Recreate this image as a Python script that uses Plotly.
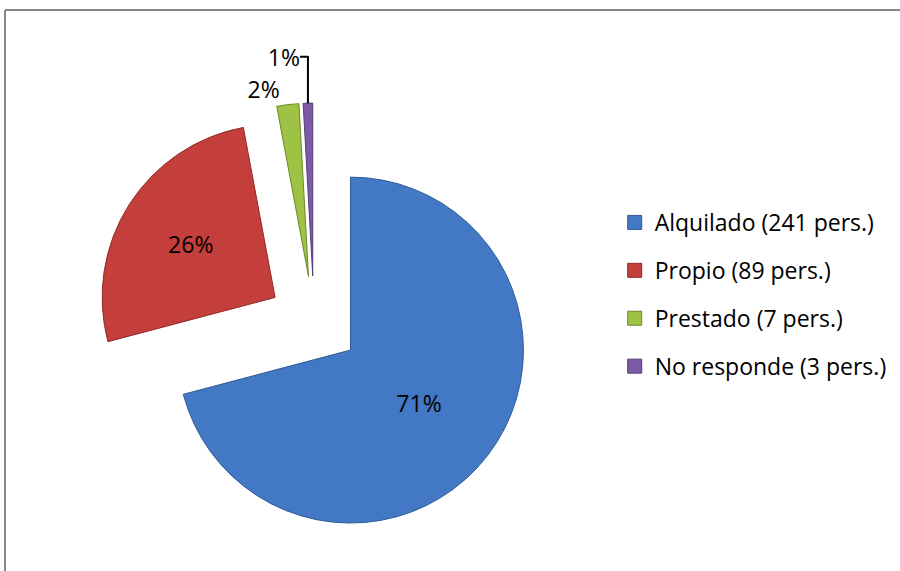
import plotly.graph_objects as go

labels = ["Alquilado (241 pers.)", "Propio (89 pers.)", "Prestado (7 pers.)", "No responde (3 pers.)"]
values = [241, 89, 7, 3]
colors = ["#4379c4", "#c43e3b", "#9dc244", "#7d5aa6"]
edges = ["#2f5b97", "#8e2a28", "#6c8a2a", "#553c78"]
text_pos = ["inside", "inside", "outside", "outside"]

FONT = "Open Sans, sans-serif"

fig = go.Figure()
fig.add_trace(go.Pie(
    labels=labels,
    values=values,
    sort=False,
    direction="clockwise",
    rotation=0,
    pull=[0.266] * 4,
    marker=dict(colors=colors, line=dict(color=edges, width=1)),
    texttemplate="%{percent:.0%}",
    textposition=text_pos,
    insidetextorientation="horizontal",
    textfont=dict(family=FONT, size=23, color="#000000"),
    domain=dict(x=[0.1056, 0.5922], y=[0.0525, 0.8196]),
    automargin=False,
    showlegend=False,
    hoverinfo="label+value+percent",
))

# legend entries (one group per slice so the spacing can be set)
for name, col, edge in zip(labels, colors, edges):
    fig.add_trace(go.Scatter(
        x=[None], y=[None], mode="markers", name=name, legendgroup=name,
        marker=dict(symbol="square", size=14, color=col, line=dict(color=edge, width=1)),
        hoverinfo="skip",
    ))

# chart border: only the top and left edges are in the picture
top = 1 - 10 / 571
left = 5 / 900
border = dict(color="#878787", width=2)
fig.add_shape(type="line", xref="paper", yref="paper",
              x0=left, x1=1.0, y0=top, y1=top, line=border)
fig.add_shape(type="line", xref="paper", yref="paper",
              x0=left, x1=left, y0=0.0, y1=top, line=border)

fig.update_layout(
    width=900, height=571,
    margin=dict(l=0, r=0, t=0, b=0, autoexpand=False),
    paper_bgcolor="white", plot_bgcolor="white",
    font=dict(family=FONT, size=23, color="#000000"),
    xaxis=dict(visible=False), yaxis=dict(visible=False),
    showlegend=True,
    legend=dict(x=0.683, y=0.648, xanchor="left", yanchor="top",
                tracegroupgap=15, bgcolor="rgba(0,0,0,0)",
                font=dict(family=FONT, size=23, color="#000000")),
)

fig.write_html("out.html", config={"displayModeBar": False},
               post_script="document.body.style.margin='0px';")
